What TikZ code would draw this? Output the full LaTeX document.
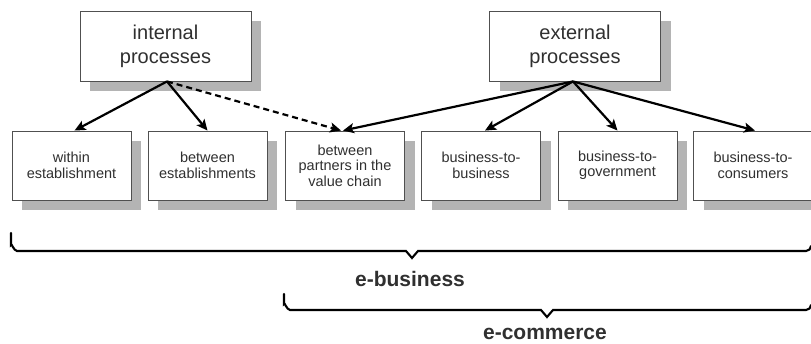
\documentclass[tikz,border=0pt]{standalone}
\usepackage{fontspec}
\setmainfont{Liberation Sans}
\usetikzlibrary{arrows.meta,shadows}
\definecolor{boxline}{HTML}{505050}
\definecolor{shade}{HTML}{B4B4B4}
\definecolor{ink}{HTML}{303030}
\begin{document}
\begin{tikzpicture}[x=1pt,y=-1pt,
  procbox/.style={draw=boxline,line width=0.9pt,fill=white,align=center,
    inner sep=0pt,text=ink,
    drop shadow={shadow xshift=10pt,shadow yshift=-10pt,fill=shade,opacity=1}},
  bigbox/.style={procbox,minimum width=171pt,minimum height=70pt,
    font=\fontsize{20}{24}\selectfont},
  smallbox/.style={procbox,minimum width=119pt,minimum height=69pt,
    font=\fontsize{14.5}{15.5}\selectfont},
  link/.style={line width=2.2pt,-{Stealth[length=11pt,width=10pt,inset=2.5pt]}},
  dashlink/.style={link,dash pattern=on 6pt off 4pt},
  brace/.style={line width=2.1pt,line cap=round,line join=miter},
  tag/.style={font=\bfseries\fontsize{21}{24}\selectfont,anchor=base,text=ink,
    inner sep=0pt,text depth=0pt}]
\useasboundingbox[fill=white] (0,0) rectangle (811,344);

% upper level
\node[bigbox] (int) at (165.5,46) {internal\\processes};
\node[bigbox] (ext) at (575,46) {external\\processes};

% lower level
\node[smallbox] (b1) at (71.5,165.5) {within\\establishment};
\node[smallbox] (b2) at (207.5,165.5) {between\\establishments};
\node[smallbox] (b3) at (345,165.5) {between\\partners in the\\value chain};
\node[smallbox] (b4) at (481,165.5) {business-to-\\business};
\node[smallbox] (b5) at (617.5,165.5) {business-to-\\government};
\node[smallbox] (b6) at (753,165.5) {business-to-\\consumers};

% connectors
\coordinate (io) at ([xshift=1.5pt]int.south);
\coordinate (eo) at ([xshift=-2pt]ext.south);
\draw[link] (io) -- ([xshift=3pt]b1.north);
\draw[link] (io) -- (b2.north);
\draw[dashlink] (io) -- ([xshift=-4pt]b3.north);
\draw[link] (eo) -- ([xshift=-2pt]b3.north);
\draw[link] (eo) -- ([xshift=4pt]b4.north);
\draw[link] (eo) -- (b5.north);
\draw[link] (eo) -- ([xshift=2pt]b6.north);

% braces
\draw[brace] (11,233) -- (11,245) to[out=90,in=180] (17,251) -- (406,251)
  -- (412,258) -- (418,251) -- (806,251) to[out=0,in=-90] (811,246);
\draw[brace] (284,294) -- (284,304) to[out=90,in=180] (290,310) -- (541,310)
  -- (547,317) -- (553,310) -- (806,310) to[out=0,in=-90] (811,305);

\node[tag] (eb) at (410,287) {e-business};
\node[tag] (ec) at (545,340) {e-commerce};
\end{tikzpicture}
\end{document}
